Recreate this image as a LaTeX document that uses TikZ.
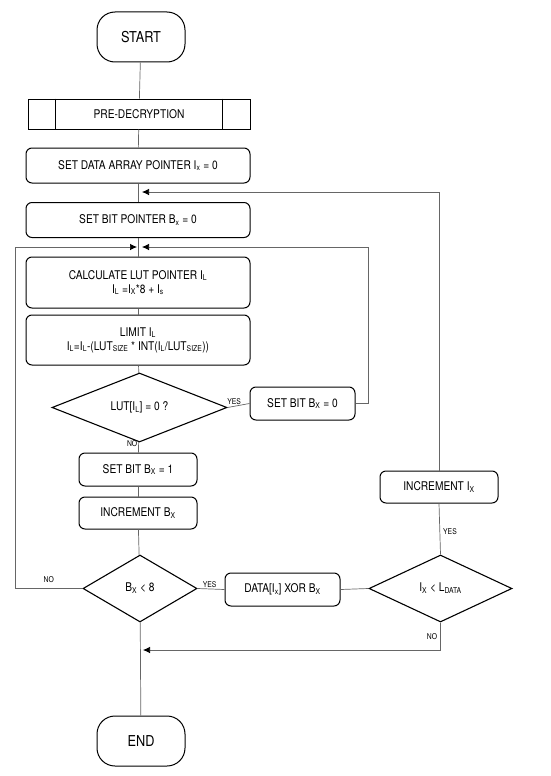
\documentclass[tikz,border=0pt]{standalone}
\usepackage{fontspec}
\setmainfont{TeX Gyre Heros}[FakeStretch=0.85]
\usetikzlibrary{arrows.meta, positioning, shapes.geometric}
\newcommand{\lo}[1]{\textsubscript{#1}}

\begin{document}
\begin{tikzpicture}[
    x=1pt,
    y=-1pt,
    >=Latex,
    font=\fontsize{12}{14}\selectfont,
    terminal/.style={rectangle, draw, line width=1pt, rounded corners=18pt, minimum width=88pt, minimum height=50pt, font=\fontsize{15}{17}\selectfont},
    subproc/.style={rectangle, draw, line width=1pt, minimum width=222pt, minimum height=30pt},
    process/.style={rectangle, draw, line width=1pt, rounded corners=6pt, align=center, minimum width=224pt, minimum height=35pt},
    smallprocess/.style={rectangle, draw, line width=1pt, rounded corners=6pt, align=center, minimum width=118pt, minimum height=33pt},
    decision/.style={diamond, draw, line width=1.1pt, inner sep=0pt},
    line/.style={draw=black!60, line width=0.7pt},
    arrowline/.style={line, -{Latex[length=7pt, width=6.5pt, color=black, fill=black]}},
    lbl/.style={font=\fontsize{8}{9}\selectfont, inner sep=1pt}
]
\useasboundingbox (0,0) rectangle (550,776);

% main column
\node[terminal] (start) at (141,37) {START};
\node[subproc] (pre) at (139,114) {PRE-DECRYPTION};
\draw[line width=1pt] ([xshift=28pt]pre.north west) -- ([xshift=28pt]pre.south west);
\draw[line width=1pt] ([xshift=-28pt]pre.north east) -- ([xshift=-28pt]pre.south east);
\node[process] (setdata) at (138,165.5) {SET DATA ARRAY POINTER I\lo{x} = 0};
\node[process] (setbit) at (138,220) {SET BIT POINTER B\lo{x} = 0};
\node[process, minimum height=51pt] (calc) at (138,282.5) {CALCULATE LUT POINTER I\lo{L}\\I\lo{L} =I\lo{X}*8 + I\lo{s}};
\node[process, minimum height=50pt] (limit) at (138,340) {LIMIT I\lo{L}\\I\lo{L}=I\lo{L}-(LUT\lo{SIZE} * INT(I\lo{L}/LUT\lo{SIZE}))};
\node[decision, minimum width=175pt, minimum height=69pt] (lut) at (139.5,407.5) {LUT[I\lo{L}] = 0 ?};
\node[smallprocess, minimum width=105pt] (bit0) at (302.5,403.5) {SET BIT B\lo{X} = 0};
\node[smallprocess] (bit1) at (138,469.5) {SET BIT B\lo{X} = 1};
\node[smallprocess, minimum height=32pt] (incb) at (138,513) {INCREMENT B\lo{X}};
\node[decision, minimum width=114pt, minimum height=67pt] (bx) at (140,588.5) {B\lo{X} < 8};
\node[smallprocess, minimum width=115pt] (xor) at (282.5,589.5) {DATA[I\lo{x}] XOR B\lo{X}};
\node[decision, minimum width=143pt, minimum height=67pt] (ix) at (440.5,588.5) {I\lo{X} < L\lo{DATA}};
\node[smallprocess, minimum height=32pt] (inci) at (439,487) {INCREMENT I\lo{X}};
\node[terminal] (end) at (141,741) {END};

% loop joints
\coordinate (jdata) at (142,192);
\coordinate (jbitl) at (137,247);
\coordinate (jbitr) at (142,247);
\coordinate (jend) at (143,650);

\draw[line] (start) -- (pre);
\draw[line] (pre) -- (setdata);
\draw[line] (setdata) -- (setbit);
\draw[line] (setbit) -- (calc);
\draw[line] (calc) -- (limit);
\draw[line] (limit) -- (lut);
\draw[line] (lut) -- node[lbl, pos=0.15, left] {NO} (bit1);
\draw[line] (bit1) -- (incb);
\draw[line] (incb) -- (bx);
\draw[line] (bx) -- (end);

\draw[line] (lut.east) -- node[lbl, pos=0.3, above] {YES} (bit0.west);
\draw[arrowline] (bit0.east) -| (368,247) -- (jbitr);
\draw[arrowline] (bx.west) -- node[lbl, pos=0.5, above=5pt] {NO} (15,588.5) -- (15,247) -- (jbitl);
\draw[line] (bx.east) -- node[lbl, pos=0.45, above] {YES} (xor.west);
\draw[line] (xor.east) -- (ix.west);
\draw[line] (ix.north) -- node[lbl, pos=0.45, right=2pt] {YES} (inci.south);
\draw[arrowline] (inci.north) |- (jdata);
\draw[arrowline] (ix.south) -- node[lbl, pos=0.5, left=2pt] {NO} (440.5,650) -- (jend);
\end{tikzpicture}
\end{document}
